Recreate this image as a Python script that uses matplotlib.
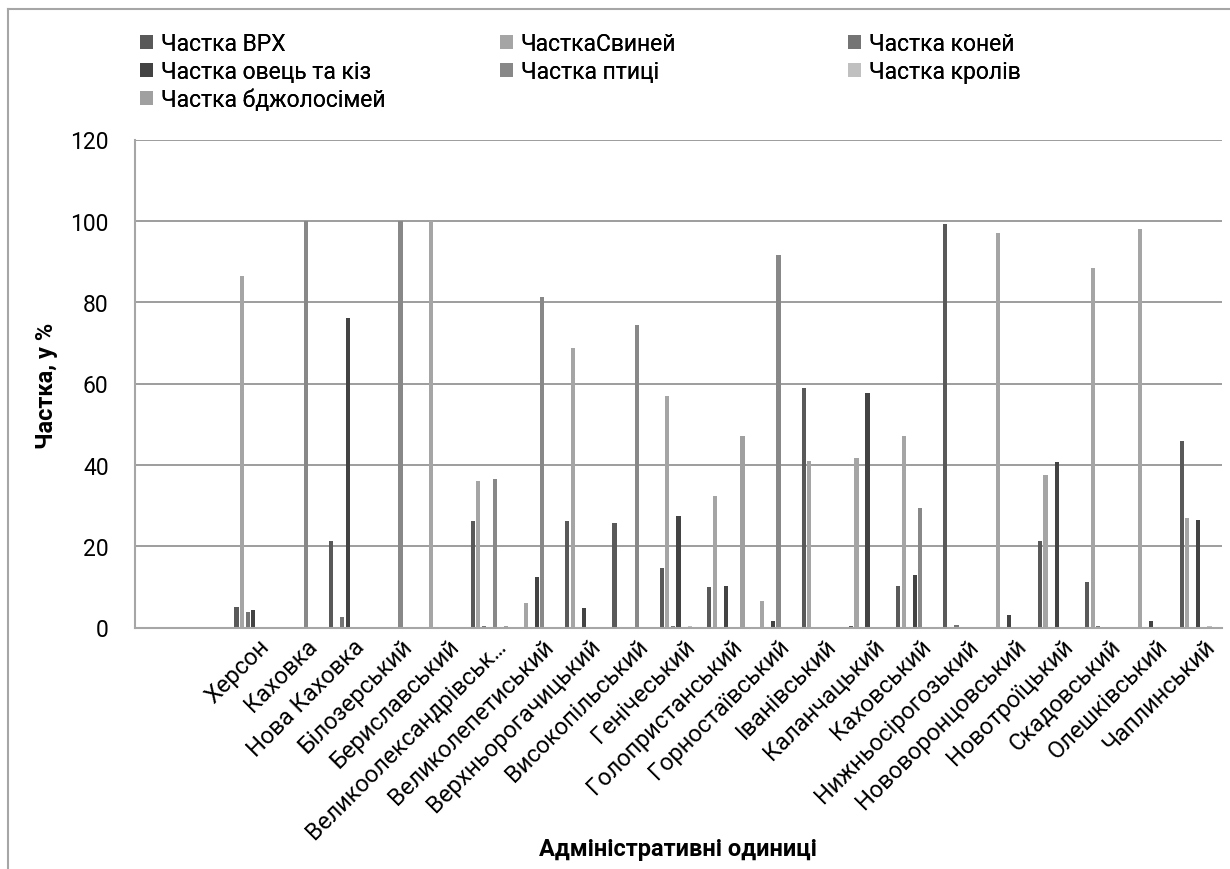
import numpy as np
import matplotlib
matplotlib.use("Agg")
import matplotlib.pyplot as plt
from matplotlib.patches import Patch
from matplotlib.lines import Line2D
import matplotlib.transforms as mtransforms

plt.rcParams['font.family'] = ['Roboto', 'DejaVu Sans']

# two blank slots at the start of the category axis, as in the original chart
units = ["", "", "Херсон", "Каховка", "Нова Каховка", "Білозерський", "Бериславський",
         "Великоолександрівськ…", "Великолепетиський", "Верхньорогачицький",
         "Високопільський", "Генічеський", "Голопристанський", "Горностаївський",
         "Іванівський", "Каланчацький", "Каховський", "Нижньосірогозький",
         "Нововоронцовський", "Новотроїцький", "Скадовський", "Олешківський",
         "Чаплинський"]

cattle = [0, 0, 5.1, 0, 21.2, 0.2, 0, 26.3, 0, 26.2, 25.7, 14.7, 9.9, 0.1,
          58.9, 0.3, 10.3, 99.2, 0, 21.2, 11.2, 0.2, 45.9]
pigs = [0, 0, 86.4, 0, 0, 0.2, 100, 36.1, 6.1, 68.7, 0, 56.9, 32.3, 6.5,
        41.0, 41.6, 47.2, 0, 97.0, 37.5, 88.4, 98.0, 27.0]
horses = [0, 0, 3.9, 0, 2.5, 0.2, 0, 0.3, 0, 0, 0, 0.3, 0, 0,
          0, 0, 0.2, 0.7, 0, 0, 0.3, 0, 0]
sheep = [0, 0, 4.3, 0, 76.2, 0, 0, 0, 12.4, 4.9, 0, 27.3, 10.3, 1.6,
         0, 57.7, 12.8, 0, 3.0, 40.7, 0, 1.5, 26.5]
poultry = [0, 0, 0, 100, 0, 100, 0, 36.4, 81.3, 0, 74.3, 0, 0, 91.7,
           0, 0, 29.3, 0, 0, 0, 0, 0, 0]
rabbits = [0, 0, 0, 0, 0, 0, 0, 0, 0, 0, 0, 0.3, 0, 0,
           0, 0, 0, 0, 0, 0, 0, 0, 0.3]
bees = [0, 0, 0, 0, 0, 0, 0, 0.3, 0, 0, 0, 0, 47.1, 0,
        0, 0, 0.1, 0, 0, 0.2, 0, 0.1, 0]

series = [
    ("Частка ВРХ", cattle, "#595959"),
    ("ЧасткаСвиней", pigs, "#a5a5a5"),
    ("Частка коней", horses, "#747474"),
    ("Частка овець та кіз", sheep, "#434343"),
    ("Частка птиці", poultry, "#888888"),
    ("Частка кролів", rabbits, "#c0c0c0"),
    ("Частка бджолосімей", bees, "#a0a0a0"),
]

FS = 16.5
W, H = 1230, 870
fig = plt.figure(figsize=(W / 100, H / 100), dpi=100)
ax = fig.add_axes([135 / W, 1 - 628.5 / H, (1222 - 135) / W, (628.5 - 140.5) / H])

x = np.arange(len(units))
slot = 1 / 8.5
for k, (name, vals, col) in enumerate(series):
    ax.bar(x + (k - 3) * slot, vals, width=slot * 0.75, color=col, zorder=3)

ax.set_xlim(-0.5, len(units) - 0.5)
ax.set_ylim(0, 120)
ax.set_yticks(range(0, 121, 20))
ax.yaxis.grid(True, color="#8c8c8c", lw=1.2)
ax.set_axisbelow(True)
for s in ["top", "right"]:
    ax.spines[s].set_visible(False)
for s in ["left", "bottom"]:
    ax.spines[s].set_color("#a6a6a6")
    ax.spines[s].set_linewidth(1.5)
    ax.spines[s].set_zorder(4)
ax.tick_params(length=0)
ax.tick_params(axis="y", labelsize=FS, pad=19)

ax.set_xticks(x)
ax.set_xticklabels(units, rotation=45, ha="right", va="center",
                   rotation_mode="anchor", fontsize=17)
off = mtransforms.ScaledTranslation(13 / 100, -10 / 100, fig.dpi_scale_trans)
for lab in ax.get_xticklabels():
    lab.set_transform(lab.get_transform() + off)

fig.text(46 / W, 1 - 386 / H, "Частка, у %", rotation=90, ha="center", va="center",
         fontsize=17, fontweight="bold")
fig.text(678 / W, 1 - 850 / H, "Адміністративні одиниці", ha="center", va="center",
         fontsize=17, fontweight="bold")

# legend laid out in three columns, filled row by row
columns = [(140, [0, 3, 6]), (500, [1, 4]), (848, [2, 5])]
for cx, idx in columns:
    handles = [Patch(facecolor=series[i][2], edgecolor="none") for i in idx]
    labels = [series[i][0] for i in idx]
    leg = fig.legend(handles, labels, loc="upper left",
                     bbox_to_anchor=(cx / W, 1 - 33 / H), frameon=False,
                     fontsize=FS, handlelength=0.55, handleheight=0.55,
                     handletextpad=0.35, labelspacing=0.22, borderpad=0,
                     borderaxespad=0)
    fig.add_artist(leg)

fig.add_artist(Line2D([8 / W, 8 / W], [0, 1 - 10 / H], transform=fig.transFigure,
                      color="#a6a6a6", lw=1.5))
fig.add_artist(Line2D([8 / W, 1], [1 - 10 / H, 1 - 10 / H], transform=fig.transFigure,
                      color="#a6a6a6", lw=1.5))

fig.savefig("out.png", dpi=100)
